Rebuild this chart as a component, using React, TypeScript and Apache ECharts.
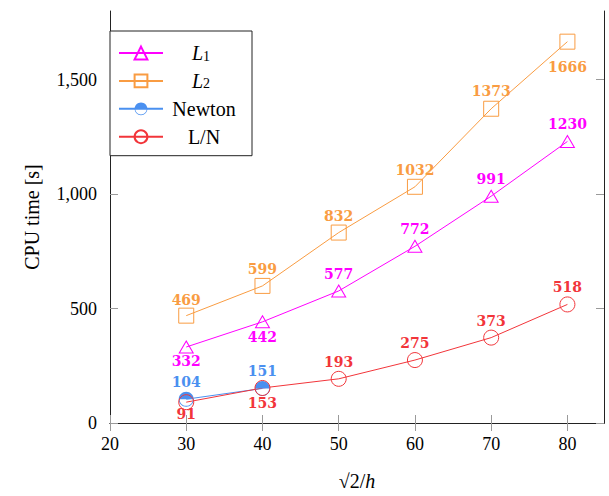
import React, { useEffect, useRef } from 'react';
import * as echarts from 'echarts';

const xValues = [30, 40, 50, 60, 70, 80];
const l1Values = [332, 442, 577, 772, 991, 1230];
const l2Values = [469, 599, 832, 1032, 1373, 1666];
const newtonX = [30, 40];
const newtonValues = [104, 151];
const lnValues = [91, 153, 193, 275, 373, 518];
const xTicks = [20, 30, 40, 50, 60, 70, 80];
const yTicks = [0, 500, 1000, 1500];
const seriesNames = ['L1', 'L2', 'Newton', 'L/N'];

// label placement per point (style, kept apart from the values)
const l1LabelDy = [14, 15, -17, -17, -17, -17];
const l2LabelDy = [-16, -17, -17, -17, -18, 25];
const newtonLabelDy = [-17, -17];
const lnLabelDy = [12, 15, -17, -17, -17, -17];

const MAGENTA = '#ff00ff';
const ORANGE = '#f99c42';
const BLUE = '#4a90f0';
const RED = '#f2353a';
const SERIF = '"Liberation Serif", "DejaVu Serif", serif';
const LABEL_FONT = '"DejaVu Serif", serif';

// full outline ring + filled upper half (inner lower half is a hole)
const halfDisk =
  'path://M0 10 C0 4.477 4.477 0 10 0 C15.523 0 20 4.477 20 10 ' +
  'C20 15.523 15.523 20 10 20 C4.477 20 0 15.523 0 10 Z ' +
  'M1.1 10 C1.1 14.915 5.085 18.9 10 18.9 C14.915 18.9 18.9 14.915 18.9 10 Z';

function mkData(xs: number[], ys: number[], dys: number[]) {
  return xs.map((x, i) => ({
    value: [x, ys[i]],
    label: { offset: [0, dys[i]] },
  }));
}

function mkSeries(
  name: string,
  data: any[],
  color: string,
  symbol: string,
  symbolSize: any,
  filled: boolean,
) {
  return {
    name,
    type: 'line',
    data,
    symbol,
    symbolSize,
    showAllSymbol: true,
    lineStyle: { color, width: 1 },
    itemStyle: filled
      ? { color, borderColor: color, borderWidth: 0 }
      : { color: 'transparent', borderColor: color, borderWidth: 1 },
    label: {
      show: true,
      position: 'inside',
      color,
      fontFamily: LABEL_FONT,
      fontWeight: 'bold',
      fontSize: 14,
      formatter: (p: any) => String(p.value[1]),
    },
    emphasis: { disabled: true },
    z: 3,
  };
}

export default function App() {
  const ref = useRef<HTMLDivElement>(null);
  useEffect(() => {
    if (!ref.current) return;
    const chart = echarts.init(ref.current, undefined, { renderer: 'svg' });
    const axisLine = { show: true, lineStyle: { color: '#222', width: 1 } };
    const tick = (vals: number[]) => ({
      show: true,
      inside: true,
      length: 8,
      customValues: vals,
      lineStyle: { color: '#9a9a9a', width: 1 },
    });
    const legendFormatter = (name: string) => {
      if (name === 'L1' || name === 'L2') {
        return `{it|L}{sub|${name.slice(1)}}`;
      }
      return `{rm|${name}}`;
    };
    chart.setOption({
      animation: false,
      backgroundColor: '#ffffff',
      grid: { left: 110, top: 11, right: 5, bottom: 73, containLabel: false },
      legend: {
        left: 110,
        top: 31,
        orient: 'vertical',
        data: seriesNames,
        itemWidth: 44,
        itemHeight: 16,
        itemGap: 7.9,
        padding: [12, 12, 9, 8],
        backgroundColor: '#ffffff',
        borderColor: '#222',
        borderWidth: 1,
        borderRadius: 0,
        formatter: legendFormatter,
        textStyle: {
          color: '#000',
          rich: {
            it: {
              fontFamily: SERIF,
              fontStyle: 'italic',
              fontSize: 20,
              lineHeight: 20,
              padding: [0, 0, 0, 24],
              align: 'left',
              color: '#000',
            },
            sub: {
              fontFamily: SERIF,
              fontSize: 14,
              lineHeight: 10,
              verticalAlign: 'bottom',
              align: 'left',
              color: '#000',
            },
            rm: {
              fontFamily: SERIF,
              fontSize: 20,
              width: 72,
              align: 'center',
              lineHeight: 20,
              color: '#000',
            },
          },
        },
      },
      xAxis: [
        {
          type: 'value',
          position: 'bottom',
          min: 20,
          max: 84.8,
          axisLine,
          axisTick: tick(xTicks),
          splitLine: { show: false },
          axisLabel: {
            customValues: xTicks,
            fontFamily: SERIF,
            fontSize: 18,
            color: '#000',
            margin: 12,
          },
          name: '{rm|√2/}{it|h}',
          nameLocation: 'middle',
          nameGap: 48,
          nameTextStyle: {
            fontFamily: SERIF,
            fontSize: 20,
            color: '#000',
            rich: {
              rm: { fontFamily: SERIF, fontSize: 20, color: '#000' },
              it: { fontFamily: SERIF, fontSize: 20, fontStyle: 'italic', color: '#000' },
            },
          },
        },
        {
          type: 'value',
          position: 'top',
          min: 20,
          max: 84.8,
          axisLine,
          axisTick: tick(xTicks),
          splitLine: { show: false },
          axisLabel: { show: false },
        },
      ],
      yAxis: [
        {
          type: 'value',
          position: 'left',
          min: 0,
          max: 1800,
          axisLine,
          axisTick: tick(yTicks),
          splitLine: { show: false },
          axisLabel: {
            customValues: yTicks,
            fontFamily: SERIF,
            fontSize: 18,
            color: '#000',
            margin: 13,
            formatter: (v: number) => v.toLocaleString('en-US'),
          },
          name: 'CPU time [s]',
          nameLocation: 'middle',
          nameGap: 68,
          nameTextStyle: { fontFamily: SERIF, fontSize: 20, color: '#000' },
        },
        {
          type: 'value',
          position: 'right',
          min: 0,
          max: 1800,
          axisLine,
          axisTick: tick(yTicks),
          splitLine: { show: false },
          axisLabel: { show: false },
        },
      ],
      series: [
        mkSeries(seriesNames[0], mkData(xValues, l1Values, l1LabelDy), MAGENTA, 'triangle', [14, 12], false),
        mkSeries(seriesNames[1], mkData(xValues, l2Values, l2LabelDy), ORANGE, 'rect', 15, false),
        mkSeries(seriesNames[2], mkData(newtonX, newtonValues, newtonLabelDy), BLUE, halfDisk, 15, true),
        mkSeries(seriesNames[3], mkData(xValues, lnValues, lnLabelDy), RED, 'circle', 15, false),
      ],
    });
    return () => chart.dispose();
  }, []);
  return (
    <div
      ref={ref}
      style={{ position: 'absolute', left: 0, top: 0, width: 609, height: 496 }}
    />
  );
}
